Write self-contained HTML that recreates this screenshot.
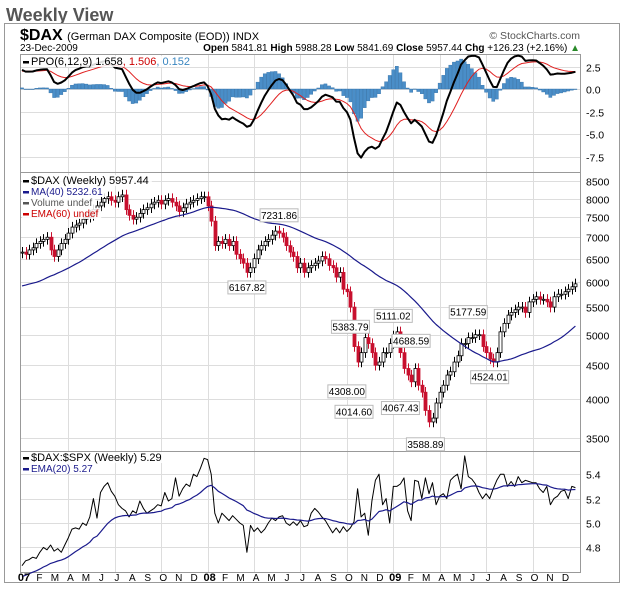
<!DOCTYPE html>
<html><head><meta charset="utf-8">
<style>
body{margin:0;background:#fff;font-family:"Liberation Sans",sans-serif;}
svg text{font-family:"Liberation Sans",sans-serif;}
</style></head>
<body>
<svg id="c" width="624" height="597" xmlns="http://www.w3.org/2000/svg">
<text x="6" y="21" font-size="18" font-weight="bold" fill="#555">Weekly View</text>
<rect x="4.5" y="23.5" width="615" height="559" fill="#fff" stroke="#999"/>
<text x="20" y="40" font-size="16" font-weight="bold" fill="#000">$DAX <tspan font-size="11" font-weight="normal">(German DAX Composite (EOD)) INDX</tspan></text>
<text x="580" y="39" font-size="10.5" fill="#555" text-anchor="end">© StockCharts.com</text>
<text x="20" y="51" font-size="10" fill="#000">23-Dec-2009</text>
<text x="580" y="51" font-size="10" fill="#000" text-anchor="end"><tspan font-weight="bold">Open</tspan> 5841.81  <tspan font-weight="bold">High</tspan> 5988.28  <tspan font-weight="bold">Low</tspan> 5841.69  <tspan font-weight="bold">Close</tspan> 5957.44  <tspan font-weight="bold">Chg</tspan> +126.23 (+2.16%) <tspan fill="#2a8a2a">▲</tspan></text>
<g id="grid"></g>
<g id="marks"></g>
<g id="labels"></g>
</svg>
<script>
const preCloses=[5900,5950,6000,6050,5900,5650,5500,5350,5400,5300,5500,5450,5600,5550,5650,5700,5500,5450,5550,5650,5750,5800,5900,5950,5900,6000,6050,6100,6150,6200,6250,6300,6250,6350,6400,6450,6500,6550,6600];
const closes=[6650,6600,6700,6750,6850,6900,6950,7000,6700,6550,6700,6850,6950,7100,7250,7300,7350,7450,7500,7550,7700,7800,7900,8000,8050,7950,7900,8050,8100,7700,7550,7450,7500,7600,7700,7750,7850,7900,7950,7850,7950,8000,7900,7800,7650,7750,7850,7900,7950,8000,8050,8050,
7800,7400,6800,6900,6850,6950,6800,6900,6600,6500,6400,6200,6300,6500,6700,6800,6900,6950,7050,7150,7100,7000,6800,6650,6550,6300,6400,6200,6300,6350,6400,6450,6550,6500,6350,6300,6100,6200,5850,5800,5500,4800,4550,4700,4950,4850,4700,4500,4550,4700,4700,4850,
4980,5050,4700,4450,4350,4250,4450,4200,4100,3850,3700,3750,3950,4100,4200,4350,4400,4550,4650,4850,4850,4950,4950,5000,5000,4800,4700,4600,4550,4700,5050,5200,5350,5400,5450,5500,5500,5400,5600,5650,5700,5650,5650,5600,5500,5700,5750,5750,5800,5850,5900,5960];
const ratio=[4.65,4.69,4.70,4.72,4.71,4.76,4.80,4.78,4.82,4.77,4.79,4.76,4.82,4.88,4.95,4.96,4.95,5.00,4.98,5.05,5.20,5.04,5.25,5.30,5.33,5.26,5.22,5.15,5.12,5.10,5.05,5.10,5.08,5.18,5.12,5.08,5.10,5.12,5.15,5.14,5.25,5.18,5.20,5.37,5.22,5.28,5.32,5.30,5.40,5.38,5.45,5.53,
5.52,5.40,5.08,5.00,5.08,5.05,5.02,5.06,5.03,5.00,4.98,4.76,4.98,4.93,4.96,4.92,4.95,5.00,5.04,5.02,5.05,5.06,5.00,4.98,5.01,4.98,5.02,4.97,4.98,5.08,5.12,5.09,5.05,5.02,4.97,4.92,4.96,4.92,4.97,4.93,4.96,5.01,5.28,5.05,5.08,4.90,5.18,5.35,5.40,5.15,5.20,5.00,
5.30,5.30,5.32,5.37,5.10,5.02,5.35,5.34,5.20,5.37,5.24,5.33,5.15,5.22,5.24,5.20,5.35,5.38,5.40,5.28,5.55,5.38,5.36,5.32,5.25,5.20,5.24,5.20,5.28,5.35,5.40,5.40,5.30,5.34,5.30,5.38,5.33,5.35,5.34,5.33,5.33,5.28,5.25,5.30,5.15,5.20,5.22,5.26,5.27,5.20,5.30,5.29];
const ratioEmaSeed=4.55;
const priceTicks=[8500,8000,7500,7000,6500,6000,5500,5000,4500,4000,3500];
const ppoTicks=[2.5,0,-2.5,-5,-7.5];
const ppoTickLabels=["2.5","0.0","-2.5","-5.0","-7.5"];
const ratioTicks=[5.4,5.2,5.0,4.8];
const ratioTickLabels=["5.4","5.2","5.0","4.8"];
const monthLabels=["07","F","M","A","M","J","J","A","S","O","N","D","08","F","M","A","M","J","J","A","S","O","N","D","09","F","M","A","M","J","J","A","S","O","N","D"];
const annoValues=[7231.86,6167.82,5383.79,5111.02,4308.00,4014.60,4688.59,4067.43,3588.89,5177.59,4524.01];
const annoWeeks=[72,63,92,104,91,93,109,106,113,125,131];
const annoAbove=[1,0,0,1,0,0,1,0,0,1,0];

const NS="http://www.w3.org/2000/svg";
const L=20,R=580,PW=3.57,X0=22;
const xs=i=>X0+i*PW;
const yPrice=v=>181+(Math.log(8500)-Math.log(v))*289.7;
const yPPO=v=>89-v*9.0;
const yRatio=v=>523-(v-5.0)*122;
function el(tag,attrs,parent,txt){const e=document.createElementNS(NS,tag);for(const k in attrs)e.setAttribute(k,attrs[k]);if(txt!==undefined)e.textContent=txt;parent.appendChild(e);return e;}
const grid=document.getElementById('grid'),marks=document.getElementById('marks'),labels=document.getElementById('labels');
const panels=[[54,172],[172,451],[451,572]];
panels.forEach((p,k)=>{const r=el('rect',{x:L+.5,y:p[0]+.5,width:R-L,height:p[1]-p[0],fill:'none',stroke:'#999'},marks);

});
for(let q=1;q<12;q++){const x=Math.round(xs(q*13))+.5;
 panels.forEach(p=>{const g=el('line',{x1:x,x2:x,y1:p[0],y2:p[1],stroke:'#ddd'},grid);
 
 });}
monthLabels.forEach((m,k)=>{const t=el('text',{x:xs(k*52/12)+2,y:581,'font-size':m.length>1?11:10,'font-weight':m.length>1?'bold':'normal','text-anchor':'middle',fill:'#000'},labels,m);

});
function ticks(vals,lbls,yf,p,name){vals.forEach((v,k)=>{const y=Math.round(yf(v))+.5;
 const g=el('line',{x1:L,x2:R,y1:y,y2:y,stroke:'#ddd'},grid);
 
 
 const t=el('text',{x:586,y:y+4,'font-size':10.5,fill:'#000'},labels,lbls[k]);
 
 });}
ticks(priceTicks,priceTicks.map(String),yPrice,panels[1],'price');
ticks(ppoTicks,ppoTickLabels,yPPO,panels[0],'ppo');
ticks(ratioTicks,ratioTickLabels,yRatio,panels[2],'ratio');

const all=preCloses.concat(closes),P=preCloses.length;
function ema(arr,n,seed){const k=2/(n+1);let e=seed===undefined?arr[0]:seed;return arr.map(v=>e=v*k+e*(1-k));}
const e6=ema(all,6),e12=ema(all,12);
const ppoAll=all.map((v,i)=>(e6[i]-e12[i])/e12[i]*100);
const sigAll=ema(ppoAll,9);
const ppo=ppoAll.slice(P),sig=sigAll.slice(P);
const ma40=closes.map((v,i)=>{let s=0;for(let j=i+P-39;j<=i+P;j++)s+=all[j];return s/40;});
const rEma=ema(ratio,20,ratioEmaSeed);

function path(vals,xf,yf,stroke,w,name){const d=vals.map((v,i)=>(i?'L':'M')+xf(i).toFixed(1)+','+yf(v).toFixed(1)).join('');
 const p=el('path',{d,fill:'none',stroke,'stroke-width':w,'stroke-linejoin':'round'},marks);
 
 }

ppo.forEach((v,i)=>{const h=v-sig[i];const y0=yPPO(0),y1=yPPO(h);
 const b=el('rect',{x:xs(i)-1.6,y:Math.min(y0,y1),width:3.2,height:Math.max(.5,Math.abs(y1-y0)),fill:'#4a8ec8',stroke:'#2f6fa8','stroke-width':.4},marks);
 
 });
path(sig,xs,yPPO,'#e02020',1,'ppo-signal-line');
path(ppo,xs,yPPO,'#000',2,'ppo-line');

closes.forEach((c,i)=>{const o=i?closes[i-1]:c-20;const up=c>=o;
 const hi=Math.max(o,c)*1.018,lo=Math.min(o,c)*0.982;const x=Math.round(xs(i))+.5;
 const w=el('line',{x1:x,x2:x,y1:yPrice(hi),y2:yPrice(lo),stroke:up?'#000':'#c8102e','stroke-width':1},marks);
 
 
 const yt=yPrice(Math.max(o,c)),yb=yPrice(Math.min(o,c));
 const b=el('rect',{x:x-1.5,y:yt,width:3,height:Math.max(1,yb-yt),fill:up?'#fff':'#c8102e',stroke:up?'#000':'#c8102e','stroke-width':.8},marks);
 
 });
path(ma40,xs,yPrice,'#1a1a8c',1.2,'ma40-line');

path(ratio,xs,yRatio,'#000',1,'ratio-line');
path(rEma,xs,yRatio,'#1a1a8c',1.2,'ratio-ema-line');

annoValues.forEach((v,k)=>{const x=xs(annoWeeks[k]),y=yPrice(v);const txt=v.toFixed(2);
 const by=annoAbove[k]?y-19:y+7;
 const g=el('g',{},labels);
 
 
 el('rect',{x:x-19,y:by,width:38,height:13,fill:'#fff',stroke:'#bbb'},g);
 el('text',{x:x,y:by+10,'font-size':10,'text-anchor':'middle',fill:'#000'},g,txt);});

function legend(items,y0){items.forEach((it,k)=>{const y=y0+k*11;
 const g=el('g',{},labels);
 
 
 const bg=el('rect',{x:22,y:y-9,width:10,height:11,fill:'#fff','fill-opacity':0.85},g);
 el('rect',{x:23,y:y-4,width:6,height:2.5,fill:it[1]},g);
 const t=el('text',{x:31,y:y,'font-size':it[2]||10,fill:it[1]},g);t.innerHTML=it[0];
 try{bg.setAttribute('width',t.getComputedTextLength()+12);}catch(e){}});}
legend([['PPO(6,12,9) 1.658<tspan fill="#c00">, 1.506</tspan><tspan fill="#3a86c0">, 0.152</tspan>','#000',11]],65);
legend([['$DAX (Weekly) 5957.44','#000',11],['MA(40) 5232.61','#1a1a8c'],['Volume undef','#555'],['EMA(60) undef','#c00']],184);
legend([['$DAX:$SPX (Weekly) 5.29','#000',11],['EMA(20) 5.27','#1a1a8c']],461);
</script>
</body></html>
